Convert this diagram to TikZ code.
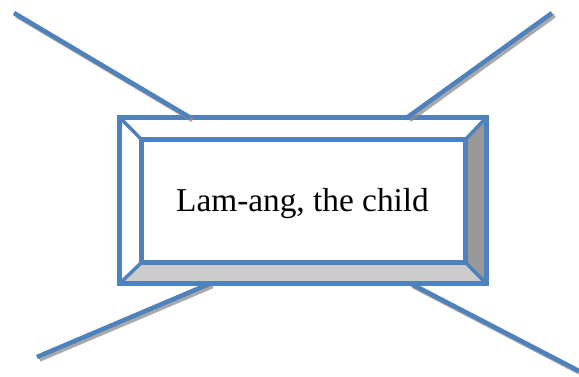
\documentclass[tikz,border=0pt]{standalone}
\usepackage{fontspec}
\setmainfont{Liberation Serif}
\usepackage{xcolor}
\usetikzlibrary{positioning,calc}
\definecolor{rayblue}{HTML}{4F81BD}

\begin{document}
\begin{tikzpicture}[
  x=0.75pt,y=-0.75pt,
  frame/.style={draw=rayblue,line width=3.4pt,inner sep=0pt,outer sep=0pt},
  ray/.style={draw=rayblue,line width=3.4pt},
  rayshadow/.style={draw=black!45,line width=3.4pt,opacity=0.75},
  bevel/.style={draw=rayblue,line width=2.6pt}]
  \useasboundingbox (0,0) rectangle (579,377);
  \node[frame,minimum width=275pt,minimum height=124.5pt] (outer) at (303,200.5) {};
  \node[frame,fill=white,minimum width=243pt,minimum height=92.25pt] (child) at (303.5,201) {};
  \node[font=\fontsize{25}{30}\selectfont] (name) at (302.5,203.5) {Lam-ang, the child};
  % bevel faces
  \fill[black!40] (outer.north east)--(outer.south east)--(child.south east)--(child.north east)--cycle;
  \fill[black!20] (outer.south west)--(outer.south east)--(child.south east)--(child.south west)--cycle;
  \draw[bevel] (outer.north west)--(child.north west);
  \draw[bevel] (outer.north east)--(child.north east);
  \draw[bevel] (outer.south west)--(child.south west);
  \draw[bevel] (outer.south east)--(child.south east);
  \draw[frame] (outer.north west) rectangle (outer.south east);
  \draw[frame] (child.north west) rectangle (child.south east);
  % rays
  \coordinate (tl) at (14,13);
  \coordinate (tr) at (552,13);
  \coordinate (bl) at (37,357);
  \coordinate (br) at (579,371);
  \coordinate (tlIn) at ($(outer.north west)!0.192!(outer.north east)$);
  \coordinate (trIn) at ($(outer.north west)!0.784!(outer.north east)$);
  \coordinate (blIn) at ($(outer.south west)!0.247!(outer.south east)$);
  \coordinate (brIn) at ($(outer.south west)!0.793!(outer.south east)$);
  \foreach \a/\b in {tl/tlIn,tr/trIn,bl/blIn,br/brIn}{
    \draw[rayshadow] ([shift={(2.5,2.5)}]\a)--([shift={(2.5,2.5)}]\b);
    \draw[ray] (\a)--(\b);
  }
\end{tikzpicture}
\end{document}
